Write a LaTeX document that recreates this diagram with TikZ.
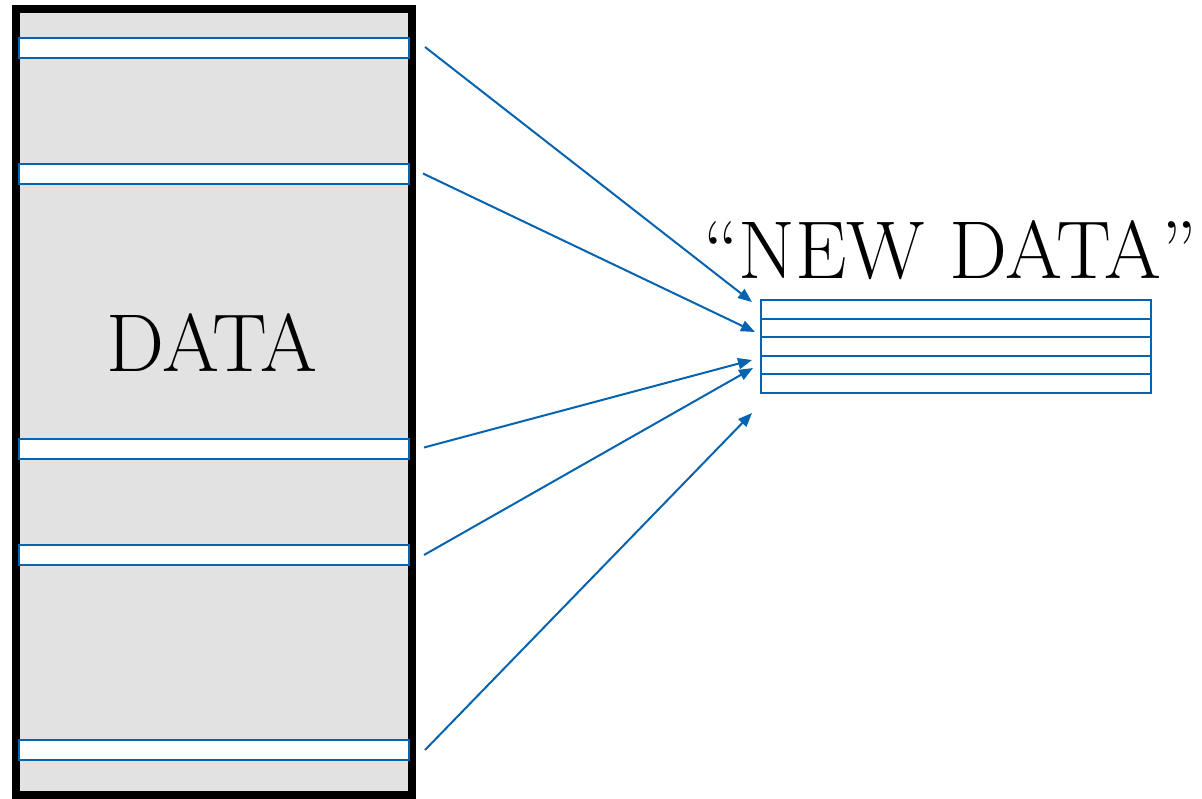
\documentclass[tikz,border=0pt]{standalone}
\usepackage{fontspec}
\usetikzlibrary{arrows.meta,calc}
\definecolor{linkblue}{RGB}{5,99,176}
\definecolor{panelgray}{RGB}{226,226,226}
\begin{document}
\begin{tikzpicture}[x=1pt,y=-1pt,
  strip/.style={draw=linkblue,line width=2pt,fill=white,minimum width=390pt,minimum height=20pt,inner sep=0pt,outer sep=0pt},
  row/.style={draw=linkblue,line width=2pt,fill=white,minimum width=390pt,minimum height=18.6pt,inner sep=0pt,outer sep=0pt},
  link/.style={draw=linkblue,line width=2pt,-{Triangle[length=14pt,width=11pt]}},
  bigtext/.style={font=\fontsize{82}{92}\selectfont,inner sep=0pt,anchor=base}]
\useasboundingbox (0,0) rectangle (1202,799);
\node[draw=black,line width=8pt,fill=panelgray,minimum width=396pt,minimum height=786pt,inner sep=0pt] (panel) at (214,402) {};
\node[strip] (s1) at (214,48) {};
\node[strip] (s2) at (214,174.5) {};
\node[strip] (s3) at (214,448.5) {};
\node[strip] (s4) at (214,555) {};
\node[strip] (s5) at (214,750) {};
\node[row] (r1) at (956,309.3) {};
\node[row] (r2) at (956,327.9) {};
\node[row] (r3) at (956,346.5) {};
\node[row] (r4) at (956,365.1) {};
\node[row] (r5) at (956,383.7) {};
\node[bigtext] (data) at (212,372) {DATA};
\node[bigtext] (newdata) at (950,279) {“NEW DATA”};
\coordinate (t1) at (752,302);
\coordinate (t2) at (755,332);
\coordinate (t3) at (752,360);
\coordinate (t4) at (753,368);
\coordinate (t5) at (752,413);
\draw[link] ($(s1.east)+(16,-1)$) -- (t1);
\draw[link] ($(s2.east)+(14,-1)$) -- (t2);
\draw[link] ($(s3.east)+(15,-1)$) -- (t3);
\draw[link] ($(s4.east)+(15,0)$) -- (t4);
\draw[link] ($(s5.east)+(16,0)$) -- (t5);
\end{tikzpicture}
\end{document}
